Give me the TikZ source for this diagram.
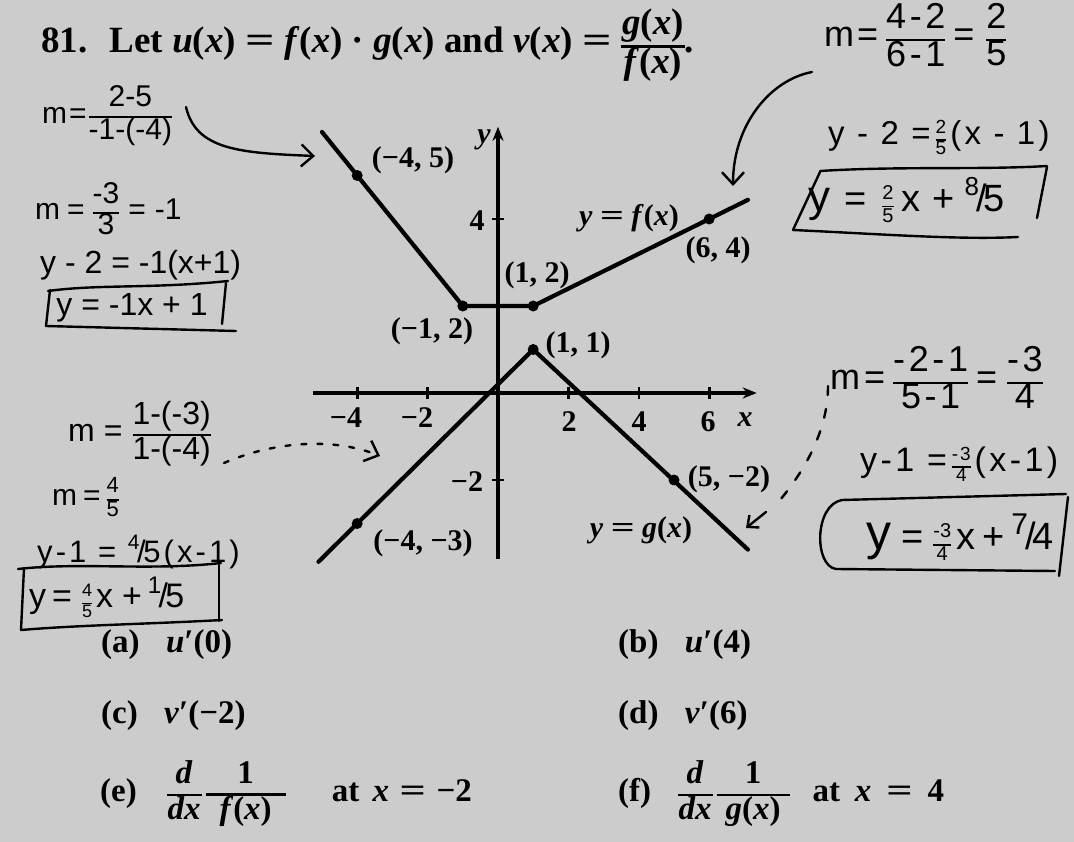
\documentclass[tikz,border=0pt]{standalone}
\usepackage{fontspec}
\setmainfont{Liberation Serif}
\newfontfamily\hand{Liberation Sans}
\newfontfamily\handw[LetterSpace=10]{Liberation Sans}
\usetikzlibrary{arrows.meta}
\definecolor{paper}{gray}{0.80}
\newcommand\hf[2]{{\setlength\arrayrulewidth{2pt}\renewcommand\arraystretch{0.9}\begin{tabular}{@{}c@{}}#1\\\hline #2\end{tabular}}}
\newcommand\hfs[3][20]{{\fontsize{#1}{#1}\selectfont\setlength\arrayrulewidth{1.6pt}\renewcommand\arraystretch{1.05}\begin{tabular}{@{}c@{}}#2\\\hline #3\end{tabular}}}
\newcommand\slf[3][21]{\raisebox{.42em}{\fontsize{#1}{#1}\selectfont #2}\kern-.08em/\kern-.08em#3}
\newcommand\pf[3][1pt]{{\setlength\arrayrulewidth{2.6pt}\renewcommand\arraystretch{0.9}\begin{tabular}{@{\hspace{#1}}c@{\hspace{#1}}}#2\\\hline #3\end{tabular}}}
\newcommand\vi[1]{\textit{#1}}
\newcommand\eq{\scalebox{1.4}[1]{=}}
\begin{document}
\begin{tikzpicture}[x=1pt,y=-1pt,
  title/.style={font=\fontsize{37}{40}\selectfont\bfseries, inner sep=0pt},
  lbl/.style={font=\fontsize{30}{32}\selectfont\bfseries, inner sep=0pt},
  qst/.style={font=\fontsize{33}{36}\selectfont\bfseries, inner sep=0pt},
  hw/.style={font=\hand\fontsize{30}{32}\selectfont, inner sep=0pt},
  hwr/.style={font=\handw\fontsize{33}{35}\selectfont, inner sep=0pt},
  ink/.style={line width=2.4pt, line cap=round, line join=round},
  axisline/.style={line width=3.6pt},
  plot/.style={line width=4.2pt, line join=round, line cap=round},
  tickmark/.style={line width=2.6pt},
  gdot/.style={circle, fill=black, inner sep=0pt, minimum size=11pt},
  hbarb/.style={-{Straight Barb[length=12pt,width=22pt,line width=2.4pt]}},
]
\path[use as bounding box, fill=paper] (0,0) rectangle (1074,842);

% ---------------- graph ----------------
\begin{scope}[shift={(498,393)}]
\begin{scope}[x=35.2pt,y=43.5pt]
  \coordinate (xl) at (-5.25,0); \coordinate (xr) at (7.35,0);
  \coordinate (yb) at (0,-3.82); \coordinate (yt) at (0,6.12);
  \draw[axisline,-{Stealth[length=14pt,width=11pt]}] (xl) -- (xr);
  \draw[axisline,-{Stealth[length=14pt,width=11pt]}] (yb) -- (yt);
  \foreach \t in {-4,-2,2,4,6} \draw[tickmark] (\t,-0.14) -- (\t,0.14);
  \foreach \t in {4,-2} \draw[tickmark] (-0.18,\t) -- (0.18,\t);
  % f
  \coordinate (f0) at (-5,6);
  \coordinate (fa) at (-4,5);
  \coordinate (fb) at (-1,2);
  \coordinate (fc) at (1,2);
  \coordinate (fd) at (6,4);
  \coordinate (f1) at (7.1,4.44);
  \draw[plot] (f0) -- (fb) -- (fc) -- (f1);
  % g
  \coordinate (g0) at (-5.1,-3.88);
  \coordinate (ga) at (-4,-3);
  \coordinate (gb) at (1,1);
  \coordinate (gc) at (5,-2);
  \coordinate (g1) at (7.1,-3.6);
  \draw[plot] (g0) -- (gb) -- (g1);
  \foreach \p in {fa,fb,fc,fd,ga,gb,gc} \node[gdot] (d\p) at (\p) {};
\end{scope}
\end{scope}

% axis labels
\node[lbl] (ylab) at (484,140) {\vi{y}};
\node[lbl] (xlab) at (745,420) {\vi{x}};
\node[lbl] (t4y) at (477,221) {4};
\node[lbl] (tm2y) at (467,482) {−2};
\node[lbl] (tm4x) at (346,418) {−4};
\node[lbl] (tm2x) at (417,418) {−2};
\node[lbl] (t2x) at (569,422) {2};
\node[lbl] (t4x) at (639,422) {4};
\node[lbl] (t6x) at (708,422) {6};

% point labels
\node[lbl] (Lfa) at (413,160) {(−4, 5)};
\node[lbl] (Lfc) at (537,275) {(1, 2)};
\node[lbl] (Lfb) at (432,331) {(−1, 2)};
\node[lbl] (Lgb) at (578,345) {(1, 1)};
\node[lbl] (Lf) at (629,218) {\vi{y} \eq{} \vi{f}(\vi{x})};
\node[lbl] (Lfd) at (718,250) {(6, 4)};
\node[lbl] (Lgc) at (729,479) {(5, −2)};
\node[lbl] (Lg) at (641,530) {\vi{y} \eq{} \vi{g}(\vi{x})};
\node[lbl] (Lga) at (423,543) {(−4, −3)};

% title
\node[title, anchor=base west] (title) at (41,53) {81.\hspace{0.6em}Let \vi{u}(\vi{x}) \eq{} \vi{f}(\vi{x}) · \vi{g}(\vi{x}) and \vi{v}(\vi{x}) \eq{} \pf{\vi{g}(\vi{x})}{\vi{f}(\vi{x})}.};

% questions
\node[qst, anchor=west] (qa) at (101,645) {(a)\hspace{0.8em}\vi{u}′(0)};
\node[qst, anchor=west] (qb) at (618,645) {(b)\hspace{0.8em}\vi{u}′(4)};
\node[qst, anchor=west] (qc) at (101,716) {(c)\hspace{0.8em}\vi{v}′(−2)};
\node[qst, anchor=west] (qd) at (618,716) {(d)\hspace{0.8em}\vi{v}′(6)};
\node[qst, anchor=west] (qe) at (100,795) {(e)\hspace{0.9em}\pf{\vi{d}}{\vi{dx}}\kern4pt\pf[14pt]{1}{\vi{f}(\vi{x})}\hspace{1.4em}at\hspace{0.4em}\vi{x}\hspace{0.32em}\eq\hspace{0.32em}−2};
\node[qst, anchor=west] (qf) at (618,795) {(f)\hspace{0.8em}\pf{\vi{d}}{\vi{dx}}\kern4pt\pf[9pt]{1}{\vi{g}(\vi{x})}\hspace{0.7em}at\hspace{0.45em}\vi{x}\hspace{0.45em}\eq\hspace{0.45em}4};

% ---------------- handwriting, left ----------------
\node[hw, anchor=west] (m1) at (42,117) {m\kern2pt=\kern2pt\hf{2-5}{-1-(-4)}};
\node[hw, anchor=west] (m2) at (35,213) {m\kern7pt=\kern8pt\hf{-3}{3}\kern9pt=\kern9pt-1};
\node[hw, anchor=west, font=\hand\fontsize{32}{34}\selectfont] (e1) at (40,265) {y - 2 = -1(x+1)};
\node[hw, font=\hand\fontsize{32}{34}\selectfont] (b1) at (132,308) {y = -1x + 1};
\draw[ink] (48,291) .. controls (100,284) and (150,289) .. (228,281);
\draw[ink] (50,290) -- (46,326);
\draw[ink] (226,283) -- (222,324);
\draw[ink] (46,326) -- (236,331);

\node[hw, anchor=west, font=\hand\fontsize{32}{34}\selectfont] (m3) at (68,435) {m\kern9pt=\kern10pt\hf{1-(-3)}{1-(-4)}};
\node[hw, anchor=west] (m4) at (52,500) {m\kern6pt=\kern6pt\hfs[22]{4}{5}};
\node[hw, anchor=west, font=\handw\fontsize{31}{33}\selectfont] (e4) at (37,552) {y-1 = \slf{4}{5}(x-1)};
\node[hw, anchor=west, font=\hand\fontsize{34}{36}\selectfont] (b4) at (29,600) {y\kern6pt=\kern10pt\hfs[18]{4}{5}\kern4pt x\kern9pt+\kern6pt\slf[24]{1}{5}};
\draw[ink] (18,569) .. controls (80,562) and (150,571) .. (221,563);
\draw[ink] (24,568) -- (21,630);
\draw[ink] (219,565) -- (219,621);
\draw[ink] (21,630) .. controls (80,625) and (150,624) .. (222,620);

% arrows, left
\coordinate (a1s) at (186,107);
\coordinate (a1e) at (315,156);
\draw[ink,hbarb] (a1s) .. controls (196,150) and (240,153) .. (a1e);
\coordinate (a3s) at (224,463);
\coordinate (a3e) at (380,456);
\draw[ink,hbarb,dash pattern=on 5pt off 11pt] (a3s) .. controls (270,443) and (330,436) .. (a3e);

% ---------------- handwriting, right ----------------
\node[hwr, anchor=west, font=\handw\fontsize{36}{38}\selectfont] (m5) at (824,40) {m\kern3pt=\kern8pt\hf{4-2}{6-1}\kern8pt=\kern12pt\hf{2}{5}};
\node[hwr, anchor=west] (e5) at (828,140) {y - 2 =\kern5pt\hfs[19]{2}{5}\kern4pt(x - 1)};
\node[hw, anchor=west, font=\hand\fontsize{38}{40}\selectfont] (b5) at (808,203) {{\fontsize{44}{44}\selectfont y}\kern14pt=\kern16pt\hfs[20]{2}{5}\kern8pt x\kern12pt+\kern10pt\slf[26]{8}{5}};
\draw[ink] (820,171) .. controls (900,166) and (980,170) .. (1047,166);
\draw[ink] (1047,167) -- (1037,218);
\draw[ink] (820,172) -- (793,230);
\draw[ink] (793,230) .. controls (880,234) and (960,240) .. (1018,237);
\coordinate (a2s) at (812,72);
\coordinate (a2e) at (733,186);
\draw[ink,hbarb] (a2s) .. controls (770,80) and (733,125) .. (a2e);

\node[hwr, anchor=west, font=\handw\fontsize{36}{38}\selectfont] (m6) at (830,383) {m\kern4pt=\kern8pt\hf{-2-1}{5-1}\kern8pt=\kern10pt\hf{-3}{4}};
\node[hwr, anchor=west, font=\handw\fontsize{34}{36}\selectfont] (e6) at (860,467) {y-1 =\kern5pt\hfs[19]{-3}{4}\kern4pt(x-1)};
\node[hw, anchor=west, font=\hand\fontsize{38}{40}\selectfont] (b6) at (866,540) {{\fontsize{50}{50}\selectfont y}\kern10pt=\kern10pt\hfs[20]{-3}{4}\kern5pt x\kern7pt+\kern7pt\slf[30]{7}{4}};
\draw[ink] (1066,494) -- (842,500) .. controls (814,505) and (814,566) .. (836,569) -- (1055,571);
\draw[ink] (1068,497) -- (1059,576);
\coordinate (a4s) at (828,386);
\coordinate (a4m) at (780,500);
\draw[ink,dash pattern=on 9pt off 14pt] (a4s) .. controls (828,430) and (805,470) .. (a4m);
\coordinate (a5s) at (766,512);
\coordinate (a5e) at (746,528);
\draw[ink,-{Straight Barb[length=9pt,width=16pt,line width=2.4pt]}] (a5s) -- (a5e);
\end{tikzpicture}
\end{document}
